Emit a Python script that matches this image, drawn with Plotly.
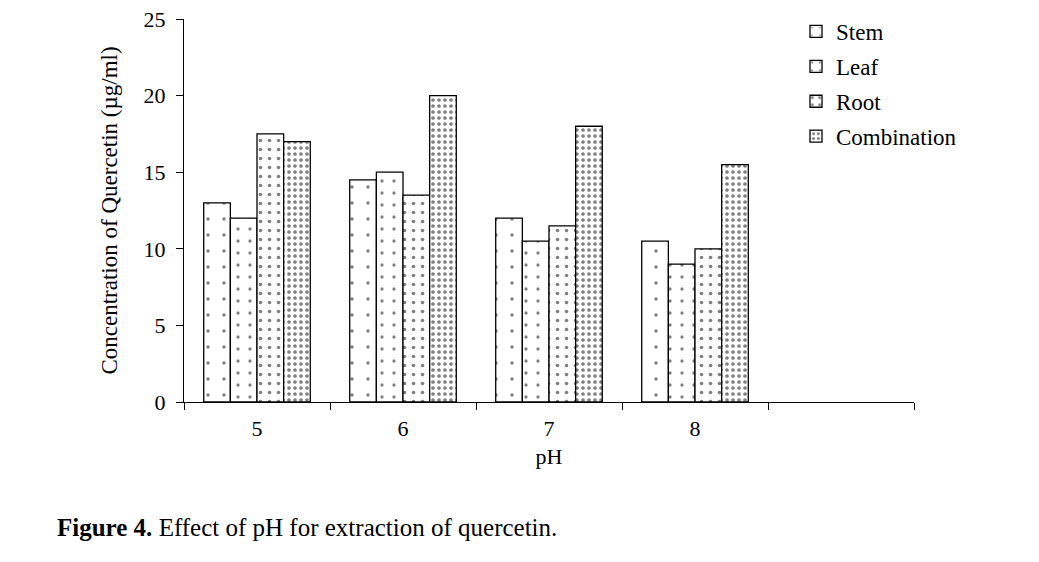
import plotly.graph_objects as go

# pH levels and extracted quercetin (ug/ml) per plant part
ph_labels = ["5", "6", "7", "8"]
stem = [13, 14.5, 12, 10.5]
leaf = [12, 15, 10.5, 9]
root = [17.5, 13.5, 11.5, 10]
combination = [17, 20, 18, 15.5]

series = [
    ("Stem", stem, dict(shape=".", size=16, solidity=0.035)),
    ("Leaf", leaf, dict(shape=".", size=12, solidity=0.06)),
    ("Root", root, dict(shape=".", size=9, solidity=0.13)),
    ("Combination", combination, dict(shape=".", size=6, solidity=0.3)),
]

xpos = list(range(len(ph_labels)))
font = "Liberation Serif, Times New Roman, serif"

# page body has an 8px margin, so the figure is drawn 8px smaller and shifted
W, H = 1031, 554
L, T = 176, 11
PW, PH = 730, 383

fig = go.Figure()
for name, vals, pat in series:
    fig.add_bar(
        x=xpos, y=vals, name=name, legendgroup=name,
        marker=dict(color="white", line=dict(color="black", width=1.3),
                    pattern=dict(fgcolor="black", bgcolor="white", **pat)),
    )

fig.update_layout(
    width=W, height=H,
    barmode="group", bargap=0.27, bargroupgap=0,
    plot_bgcolor="white", paper_bgcolor="white",
    margin=dict(l=L, r=W - L - PW, t=T, b=H - T - PH, autoexpand=False),
    font=dict(family=font, size=19, color="black"),
    legend=dict(x=(788 - L) / PW, y=1 - 2 / H, yref="container", xanchor="left", yanchor="top",
                font=dict(size=23), tracegroupgap=2,
                bgcolor="rgba(0,0,0,0)"),
    showlegend=True,
)

fig.update_xaxes(
    range=[-0.5, 4.5], tickvals=xpos, ticktext=ph_labels, ticks="",
    tickfont=dict(size=22), ticklabeloverflow="allow",
    showline=True, linecolor="black", linewidth=1, showgrid=False, zeroline=False,
    minor=dict(tickvals=[i - 0.5 for i in range(6)], ticks="outside", ticklen=7,
               tickcolor="black", showgrid=False),
    title=dict(text="pH", font=dict(size=22), standoff=8), ticklabelstandoff=7,
)
fig.update_yaxes(
    range=[0, 25], dtick=5, ticks="outside", ticklen=7, tickcolor="black",
    tickfont=dict(size=22), ticklabelstandoff=6, ticklabeloverflow="allow",
    showline=True, linecolor="black", linewidth=1, showgrid=False, zeroline=False,
    title=dict(text="Concentration of Quercetin (µg/ml)", standoff=19),
)

fig.add_annotation(
    xref="paper", yref="paper", x=(47 - L) / PW, y=(T + PH - 519) / PH,
    xanchor="left", yanchor="middle", showarrow=False,
    text="<b>Figure 4.</b> Effect of pH for extraction of quercetin.",
    font=dict(size=25, family=font),
)

fig.write_html("out.html")
